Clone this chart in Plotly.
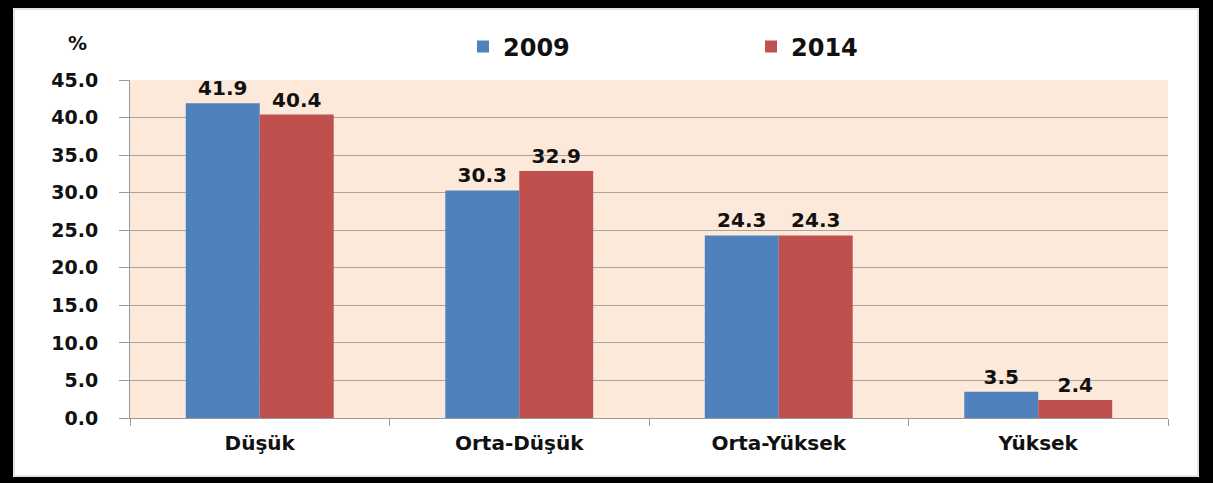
import plotly.graph_objects as go

categories = ["Düşük", "Orta-Düşük", "Orta-Yüksek", "Yüksek"]
series_names = ["2009", "2014"]
values_2009 = [41.9, 30.3, 24.3, 3.5]
values_2014 = [40.4, 32.9, 24.3, 2.4]
y_ticks = [0, 5, 10, 15, 20, 25, 30, 35, 40, 45]

FONT = "DejaVu Sans"
W, H = 1213, 483
L, R, T, B = 130, 45, 80, 65
pw, ph = W - L - R, H - T - B

def px(x):
    return (x - L) / pw

def py(y):
    return (H - B - y) / ph

def f(size):
    return dict(family=FONT, size=size, color="#111111", weight="bold")

fig = go.Figure()
for name, vals, col in [(series_names[0], values_2009, "#4F81BD"),
                        (series_names[1], values_2014, "#C0504D")]:
    fig.add_trace(go.Bar(
        x=categories, y=vals, name=name, marker_color=col,
        marker_line_width=0,
        text=[f"{v:.1f}" for v in vals], textposition="outside",
        textfont=f(20),
        cliponaxis=False,
    ))

shapes = []
# black frame
for (x0, y0, x1, y1) in [(0, 0, 13, H), (1199, 0, W, H), (0, 0, W, 8), (0, 477, W, H)]:
    shapes.append(dict(type="rect", xref="paper", yref="paper",
                       x0=px(x0), x1=px(x1), y0=py(y0), y1=py(y1),
                       fillcolor="black", line_width=0, layer="above"))
shapes.append(dict(type="rect", xref="paper", yref="paper",
                   x0=px(14), x1=px(1198), y0=py(9), y1=py(476),
                   line=dict(color="#C8C8C8", width=1), layer="above"))

fig.update_layout(
    width=W, height=H,
    margin=dict(l=L, r=R, t=T, b=B),
    paper_bgcolor="white", plot_bgcolor="#FDE9D9",
    barmode="group", bargap=0.43, bargroupgap=0,
    font=dict(family=FONT, color="#111111"),
    showlegend=True,
    legend=dict(orientation="h", x=px(463), xanchor="left", y=py(47), yanchor="middle",
                font=f(24),
                entrywidth=243, entrywidthmode="pixels",
                bgcolor="rgba(0,0,0,0)"),
    xaxis=dict(showgrid=False, showline=True, linecolor="#9A9A9A", linewidth=1,
               ticks="outside", tickson="boundaries", ticklen=7, tickcolor="#9A9A9A",
               tickfont=f(20),
               ticklabelstandoff=7),
    yaxis=dict(range=[0, 45], tickvals=y_ticks, ticktext=[f"{v:.1f}" for v in y_ticks],
               showgrid=True, gridcolor="#A6A6A6", gridwidth=1,
               showline=True, linecolor="#9A9A9A", linewidth=1,
               ticks="outside", ticklen=10, tickcolor="#9A9A9A",
               tickfont=f(19),
               ticklabelstandoff=17, zeroline=False),
    shapes=shapes,
    annotations=[dict(text="%", xref="paper", yref="paper", x=px(77), y=py(43),
                      xanchor="center", yanchor="middle",
                      showarrow=False, font=f(19))],
)

fig.write_html("out.html", config={"displayModeBar": False},
               post_script="document.body.style.margin='0';document.body.style.padding='0';document.body.style.overflow='hidden';")
